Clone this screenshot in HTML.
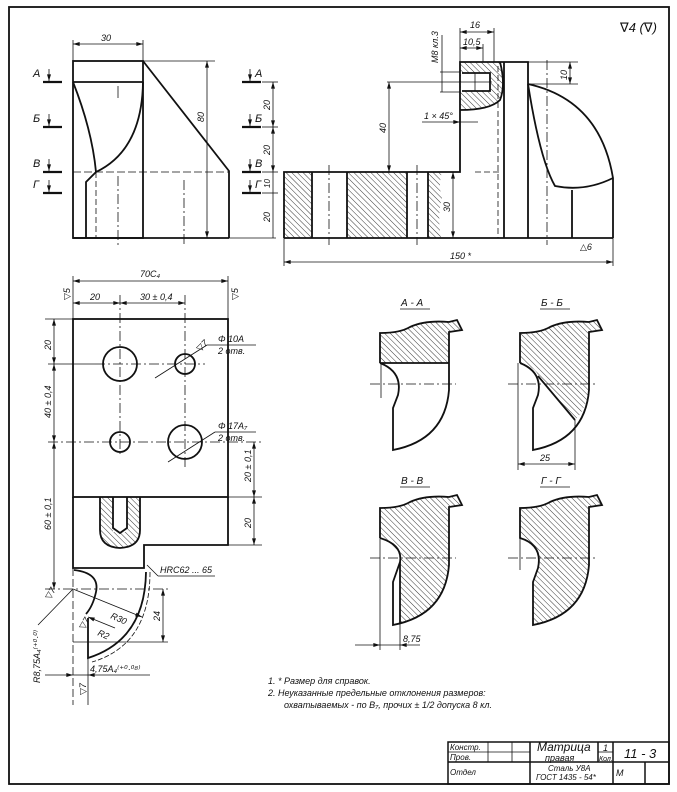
<!DOCTYPE html>
<html><head><meta charset="utf-8"><style>
html,body{margin:0;padding:0;background:#fff;}
svg{display:block;}
text{font-family:"Liberation Sans","DejaVu Sans",sans-serif;font-style:italic;fill:#111;}
.d{marker-start:url(#ar);marker-end:url(#ar);}
</style></head><body>
<svg width="677" height="792" viewBox="0 0 677 792" xmlns="http://www.w3.org/2000/svg">
<defs>
<pattern id="h" patternUnits="userSpaceOnUse" width="4" height="4" patternTransform="rotate(-45)">
<line x1="0" y1="0" x2="0" y2="4" stroke="#222" stroke-width="0.9"/>
</pattern>
<marker id="ar" viewBox="0 0 10 6" refX="10" refY="3" markerWidth="7" markerHeight="4" markerUnits="userSpaceOnUse" orient="auto-start-reverse">
<path d="M0,0 L10,3 L0,6 Z" fill="#111"/>
</marker>
</defs>
<g fill="none" stroke="#111" stroke-width="1.8">
<rect x="9" y="7" width="660" height="777"/>
</g>

<!-- ===== Top-left view ===== -->
<g fill="none" stroke="#111" stroke-width="1.8">
<rect x="73" y="61" width="70" height="177"/>
<line x1="73" y1="82" x2="143" y2="82"/>
<polyline points="143,61 229,171 229,238"/>
<line x1="73" y1="238" x2="229" y2="238"/>
<path d="M73,82 Q92,130 96,172 L86,182 L86,238"/>
<path d="M143,82 Q142,150 96,172"/>
</g>
<g fill="none" stroke="#111" stroke-width="0.8">
<line x1="229" y1="238" x2="276" y2="238"/>
<line x1="73" y1="172" x2="229" y2="172" stroke-dasharray="8,3"/>
<line x1="96" y1="172" x2="96" y2="238" stroke-dasharray="6,3"/>
<line x1="118" y1="86" x2="118" y2="98"/>
<line x1="118" y1="176" x2="118" y2="246" stroke-dasharray="10,3,2,3"/>
<line x1="184" y1="180" x2="184" y2="246" stroke-dasharray="10,3,2,3"/>
<line x1="73" y1="61" x2="73" y2="40"/><line x1="143" y1="61" x2="143" y2="40"/>
<line class="d" x1="73" y1="44" x2="143" y2="44"/>
<line x1="143" y1="61" x2="215" y2="61"/>
<line class="d" x1="207" y1="61" x2="207" y2="238"/>
<line class="d" x1="273" y1="82" x2="273" y2="127"/>
<line class="d" x1="273" y1="127" x2="273" y2="172"/>
<line x1="273" y1="172" x2="273" y2="238"/>
<line x1="262" y1="82" x2="278" y2="82"/><line x1="262" y1="127" x2="278" y2="127"/>
<line x1="262" y1="172" x2="278" y2="172"/><line x1="262" y1="193" x2="278" y2="193"/>
<line style="marker-end:url(#ar)" x1="49" y1="69" x2="49" y2="81"/><line style="marker-end:url(#ar)" x1="49" y1="114" x2="49" y2="126"/>
<line style="marker-end:url(#ar)" x1="49" y1="159" x2="49" y2="171"/><line style="marker-end:url(#ar)" x1="49" y1="180" x2="49" y2="192"/>
<line style="marker-end:url(#ar)" x1="250" y1="69" x2="250" y2="81"/><line style="marker-end:url(#ar)" x1="250" y1="114" x2="250" y2="126"/>
<line style="marker-end:url(#ar)" x1="250" y1="159" x2="250" y2="171"/><line style="marker-end:url(#ar)" x1="250" y1="180" x2="250" y2="192"/>
</g>
<g stroke="#111" stroke-width="2.2">
<line x1="43" y1="82" x2="62" y2="82"/><line x1="43" y1="127" x2="62" y2="127"/>
<line x1="43" y1="172" x2="62" y2="172"/><line x1="43" y1="193" x2="62" y2="193"/>
<line x1="242" y1="82" x2="261" y2="82"/><line x1="242" y1="127" x2="261" y2="127"/>
<line x1="242" y1="172" x2="261" y2="172"/><line x1="242" y1="193" x2="261" y2="193"/>
</g>
<g font-size="11">
<text x="101" y="41" font-size="9">30</text>
<text x="33" y="77">А</text><text x="33" y="122">Б</text><text x="33" y="167">В</text><text x="33" y="188">Г</text>
<text x="255" y="77">А</text><text x="255" y="122">Б</text><text x="255" y="167">В</text><text x="255" y="188">Г</text>
<text font-size="9" transform="translate(204,122) rotate(-90)">80</text>
<text font-size="9" transform="translate(270,110) rotate(-90)">20</text>
<text font-size="9" transform="translate(270,155) rotate(-90)">20</text>
<text font-size="8" transform="translate(270,188) rotate(-90)">10</text>
<text font-size="9" transform="translate(270,222) rotate(-90)">20</text>
</g>

<!-- ===== Top-right view ===== -->
<g>
<rect x="284" y="172" width="28" height="66" fill="url(#h)"/>
<rect x="347" y="172" width="60" height="66" fill="url(#h)"/>
<path d="M428,172 L442,172 Q438,185 442,198 Q437,215 441,238 L428,238 Z" fill="url(#h)"/>
<path d="M460,62 L500,62 Q506,85 500,100 Q490,110 460,110 Z" fill="url(#h)"/>
<rect x="461" y="73" width="30" height="18" fill="#fff"/>
</g>
<g fill="none" stroke="#111" stroke-width="1.8">
<polyline points="284,238 284,172 460,172 460,62 528,62 528,238"/>
<line x1="284" y1="238" x2="613" y2="238"/>
<line x1="312" y1="172" x2="312" y2="238"/><line x1="347" y1="172" x2="347" y2="238"/>
<line x1="407" y1="172" x2="407" y2="238"/><line x1="428" y1="172" x2="428" y2="238"/>
<line x1="504" y1="62" x2="504" y2="238"/>
<path d="M528,84 Q600,100 613,178 L613,238"/>
<path d="M528,84 Q540,160 555,186 Q585,192 613,178"/>
<line x1="572" y1="190" x2="572" y2="238"/>
<path d="M462,73 L490,73 L490,91 L462,91"/>
<path d="M500,62 Q506,85 500,100 Q490,110 460,110"/>
</g>
<g fill="none" stroke="#111" stroke-width="0.8">
<line x1="329" y1="165" x2="329" y2="245" stroke-dasharray="10,3,2,3"/>
<line x1="417" y1="165" x2="417" y2="245" stroke-dasharray="10,3,2,3"/>
<line x1="547" y1="60" x2="547" y2="245" stroke-dasharray="10,3,2,3"/>
<line x1="498" y1="66" x2="498" y2="238" stroke-dasharray="6,3"/>
<line x1="475" y1="172" x2="500" y2="172" stroke-dasharray="6,3"/>
<line x1="475" y1="73" x2="475" y2="91"/>
<line x1="387" y1="82" x2="492" y2="82"/>
<line class="d" x1="389" y1="82" x2="389" y2="172"/>
<line x1="440" y1="72" x2="460" y2="72"/><line x1="440" y1="92" x2="460" y2="92"/>
<line x1="442" y1="35" x2="442" y2="92"/>
<line x1="460" y1="62" x2="460" y2="28"/><line x1="494" y1="62" x2="494" y2="28"/>
<line x1="483" y1="62" x2="483" y2="44"/>
<line class="d" x1="460" y1="32" x2="494" y2="32"/><line class="d" x1="460" y1="48" x2="483" y2="48"/>
<line x1="528" y1="62" x2="578" y2="62"/><line x1="528" y1="84" x2="578" y2="84"/>
<line class="d" x1="570" y1="62" x2="570" y2="84"/>
<line style="marker-end:url(#ar)" x1="422" y1="122" x2="460" y2="122"/>
<line x1="460" y1="122" x2="478" y2="122"/>
<line class="d" x1="453" y1="172" x2="453" y2="238"/>
<line x1="284" y1="238" x2="284" y2="266"/><line x1="613" y1="238" x2="613" y2="266"/>
<line class="d" x1="284" y1="262" x2="613" y2="262"/>
</g>
<g font-size="9">
<text x="470" y="28">16</text>
<text x="463" y="45">10,5</text>
<text transform="translate(438,63) rotate(-90)">М8 кл.3</text>
<text transform="translate(386,133) rotate(-90)">40</text>
<text transform="translate(567,80) rotate(-90)">10</text>
<text transform="translate(450,212) rotate(-90)">30</text>
<text x="424" y="119">1 × 45°</text>
<text x="450" y="259">150 *</text>
<text x="580" y="250" font-style="normal">△6</text>
<text x="620" y="32" font-size="13" font-style="normal">∇4 (∇)</text>
</g>

<!-- ===== Bottom-left view ===== -->
<path d="M100,497 L140,497 L140,530 Q140,547 120,548 Q100,547 100,530 Z" fill="url(#h)"/>
<rect x="113" y="497" width="14" height="35" fill="#fff"/>
<g fill="none" stroke="#111" stroke-width="1.8">
<rect x="73" y="319" width="155" height="178"/>
<polyline points="73,497 73,568 144,568 144,545 228,545 228,497"/>
<circle cx="120" cy="364" r="17"/>
<circle cx="185" cy="364" r="10"/>
<circle cx="120" cy="442" r="10"/>
<circle cx="185" cy="442" r="17"/>
<path d="M100,497 L100,530 Q100,547 120,548 Q140,547 140,530 L140,497"/>
<path d="M113,497 L113,528 L120,533 L127,528 L127,497"/>
<path d="M74,570 Q100,573 96,592 Q93,606 86,614"/>
<path d="M146,572 Q145,640 88,658 L88,618"/>
</g>
<g fill="none" stroke="#111" stroke-width="0.8">
<path d="M150,572 Q150,645 92,662" stroke-dasharray="5,2"/>
<line x1="95" y1="364" x2="205" y2="364" stroke-dasharray="10,3,2,3"/>
<line x1="48" y1="442" x2="262" y2="442" stroke-dasharray="10,3,2,3"/>
<line x1="120" y1="295" x2="120" y2="456" stroke-dasharray="10,3,2,3"/>
<line x1="185" y1="295" x2="185" y2="470" stroke-dasharray="10,3,2,3"/>
<line x1="45" y1="589" x2="168" y2="589" stroke-dasharray="10,3,2,3"/>
<line x1="73" y1="568" x2="73" y2="705" stroke-dasharray="8,3"/>
<line x1="73" y1="319" x2="73" y2="276"/><line x1="228" y1="319" x2="228" y2="276"/>
<line class="d" x1="73" y1="281" x2="228" y2="281"/>
<line class="d" x1="73" y1="303" x2="120" y2="303"/>
<line class="d" x1="120" y1="303" x2="185" y2="303"/>
<line x1="45" y1="319" x2="73" y2="319"/>
<line class="d" x1="54" y1="319" x2="54" y2="364"/>
<line class="d" x1="54" y1="364" x2="54" y2="442"/>
<line class="d" x1="54" y1="442" x2="54" y2="589"/>
<line x1="48" y1="364" x2="95" y2="364"/>
<line x1="228" y1="497" x2="262" y2="497"/><line x1="228" y1="545" x2="262" y2="545"/>
<line class="d" x1="254" y1="442" x2="254" y2="497"/>
<line class="d" x1="254" y1="497" x2="254" y2="545"/>
<line class="d" x1="163" y1="589" x2="163" y2="642"/>
<line x1="73" y1="642" x2="168" y2="642"/>
<line x1="155" y1="378" x2="207" y2="345"/><line x1="207" y1="345" x2="256" y2="345"/>
<line x1="168" y1="462" x2="215" y2="432"/><line x1="215" y1="432" x2="256" y2="432"/>
<line x1="147" y1="565" x2="158" y2="576"/><line x1="158" y1="576" x2="215" y2="576"/>
<line style="marker-end:url(#ar)" x1="73" y1="589" x2="142" y2="617"/>
<line style="marker-start:url(#ar)" x1="88" y1="617" x2="115" y2="628"/>
<line x1="73" y1="589" x2="38" y2="625"/>
<line style="marker-end:url(#ar)" x1="45" y1="675" x2="73" y2="675"/>
<line style="marker-start:url(#ar)" x1="88" y1="675" x2="150" y2="675"/>
<line x1="73" y1="675" x2="88" y2="675"/>
<line x1="88" y1="658" x2="88" y2="705"/>
</g>
<g font-size="9">
<text x="140" y="277">70С₄</text>
<text x="90" y="300">20</text>
<text x="140" y="300">30 ± 0,4</text>
<text x="62" y="300" font-style="normal" transform="rotate(-90,66,296)">▽5</text>
<text x="230" y="300" font-style="normal" transform="rotate(-90,234,296)">▽5</text>
<text transform="translate(51,350) rotate(-90)">20</text>
<text transform="translate(51,418) rotate(-90)">40 ± 0,4</text>
<text transform="translate(51,530) rotate(-90)">60 ± 0,1</text>
<text transform="translate(251,482) rotate(-90)">20 ± 0,1</text>
<text transform="translate(251,528) rotate(-90)">20</text>
<text transform="translate(160,621) rotate(-90)">24</text>
<text x="218" y="342">Φ 10А</text>
<text x="218" y="354">2 отв.</text>
<text x="218" y="429">Φ 17А₇</text>
<text x="218" y="441">2 отв.</text>
<text x="160" y="573">HRC62 ... 65</text>
<text transform="translate(110,618) rotate(24)">R30</text>
<text transform="translate(97,635) rotate(24)">R2</text>
<text x="90" y="672">4,75А₄⁽⁺⁰·⁰⁸⁾</text>
<text transform="translate(40,683) rotate(-90)">R8,75А₄⁽⁺⁰·⁰⁾</text>
<text font-style="normal" transform="translate(50,600) rotate(-60)">▽7</text>
<text font-style="normal" transform="translate(86,695) rotate(-90)">▽7</text>
<text font-style="normal" transform="translate(84,630) rotate(-60)">▽7</text>
<text font-style="normal" transform="translate(200,352) rotate(-45)">▽7</text>
</g>

<!-- ===== Sections ===== -->
<g font-size="10">
<text x="401" y="306">А - А</text><line x1="400" y1="309" x2="430" y2="309" stroke="#111" stroke-width="0.8"/>
<text x="541" y="306">Б - Б</text><line x1="540" y1="309" x2="570" y2="309" stroke="#111" stroke-width="0.8"/>
<text x="401" y="484">В - В</text><line x1="400" y1="487" x2="430" y2="487" stroke="#111" stroke-width="0.8"/>
<text x="541" y="484">Г - Г</text><line x1="540" y1="487" x2="570" y2="487" stroke="#111" stroke-width="0.8"/>
</g>
<!-- A-A -->
<path d="M380,333 Q400,333 410,327 Q425,320 449,322 L457,320 L462,330 L449,332 L449,363 L380,363 Z" fill="url(#h)"/>
<g fill="none" stroke="#111" stroke-width="1.8">
<path d="M380,363 L380,333 Q400,333 410,327 Q425,320 449,322 L457,320 L462,330 L449,332 L449,390 Q445,440 393,450 L393,408 L398,395 Q403,372 380,363 L449,363"/>
</g>
<line x1="370" y1="384" x2="456" y2="384" stroke="#111" stroke-width="0.8" stroke-dasharray="10,3,2,3"/>
<line x1="381" y1="363" x2="381" y2="398" stroke="#111" stroke-width="0.8"/>
<!-- Б-Б -->
<path d="M520,333 Q540,333 550,327 Q565,320 589,322 L597,320 L602,330 L589,332 L589,388 Q586,410 575,420 L538,376 Q537,368 520,363 Z" fill="url(#h)"/>
<g fill="none" stroke="#111" stroke-width="1.8">
<path d="M520,363 L520,333 Q540,333 550,327 Q565,320 589,322 L597,320 L602,330 L589,332 L589,390 Q585,440 533,450 L533,408 L538,395 Q543,372 520,363"/>
<line x1="538" y1="376" x2="575" y2="420"/>
</g>
<g fill="none" stroke="#111" stroke-width="0.8">
<line x1="508" y1="384" x2="596" y2="384" stroke-dasharray="10,3,2,3"/>
<line x1="518" y1="363" x2="518" y2="470"/><line x1="575" y1="420" x2="575" y2="470"/>
<line class="d" x1="518" y1="464" x2="575" y2="464"/>
</g>
<text x="540" y="461" font-size="9">25</text>
<!-- В-В -->
<path d="M380,508 Q400,508 410,502 Q425,495 449,497 L457,495 L462,505 L449,507 L449,565 Q445,615 400,623 L400,560 Q398,545 380,538 Z" fill="url(#h)"/>
<g fill="none" stroke="#111" stroke-width="1.8">
<path d="M380,538 L380,508 Q400,508 410,502 Q425,495 449,497 L457,495 L462,505 L449,507 L449,565 Q445,615 393,625 L393,582 L400,562 Q403,545 380,538"/>
<line x1="400" y1="562" x2="400" y2="623"/>
</g>
<g fill="none" stroke="#111" stroke-width="0.8">
<line x1="370" y1="558" x2="456" y2="558" stroke-dasharray="10,3,2,3"/>
<line x1="380" y1="538" x2="380" y2="650"/><line x1="400" y1="623" x2="400" y2="650"/>
<line style="marker-end:url(#ar)" x1="355" y1="645" x2="380" y2="645"/>
<line style="marker-start:url(#ar)" x1="400" y1="645" x2="420" y2="645"/>
<line x1="380" y1="645" x2="400" y2="645"/>
</g>
<text x="403" y="642" font-size="9">8,75</text>
<!-- Г-Г -->
<path d="M520,508 Q540,508 550,502 Q565,495 589,497 L597,495 L602,505 L589,507 L589,565 Q585,615 533,625 L533,582 L538,568 Q543,545 520,538 Z" fill="url(#h)" stroke="#111" stroke-width="1.8"/>
<line x1="508" y1="558" x2="596" y2="558" stroke="#111" stroke-width="0.8" stroke-dasharray="10,3,2,3"/>
<line x1="520" y1="538" x2="520" y2="570" stroke="#111" stroke-width="0.8"/>

<!-- Notes -->
<g font-size="9">
<text x="268" y="684">1.  *  Размер для справок.</text>
<text x="268" y="696">2.  Неуказанные предельные отклонения размеров:</text>
<text x="284" y="708">охватываемых - по В₇, прочих ± 1/2 допуска 8 кл.</text>
</g>

<!-- Title block -->
<g fill="none" stroke="#111" stroke-width="1.5">
<rect x="448" y="742" width="221" height="42"/>
<line x1="448" y1="752" x2="530" y2="752" stroke-width="0.8"/>
<line x1="598" y1="752" x2="613" y2="752" stroke-width="0.8"/>
<line x1="448" y1="762" x2="669" y2="762"/>
<line x1="488" y1="742" x2="488" y2="762" stroke-width="0.8"/>
<line x1="512" y1="742" x2="512" y2="762" stroke-width="0.8"/>
<line x1="530" y1="742" x2="530" y2="784"/>
<line x1="598" y1="742" x2="598" y2="762"/>
<line x1="613" y1="742" x2="613" y2="784"/>
<line x1="645" y1="762" x2="645" y2="784"/>
</g>
<g>
<text x="450" y="750" font-size="8">Констр.</text>
<text x="450" y="760" font-size="8">Пров.</text>
<text x="450" y="775" font-size="8">Отдел</text>
<text x="537" y="751" font-size="12">Матрица</text>
<text x="545" y="761" font-size="9">правая</text>
<text x="548" y="771" font-size="8">Сталь У8А</text>
<text x="536" y="780" font-size="8">ГОСТ 1435 - 54*</text>
<text x="603" y="751" font-size="9">1</text>
<text x="599" y="761" font-size="7">Кол.</text>
<text x="624" y="758" font-size="13">11 - 3</text>
<text x="616" y="776" font-size="9">М</text>
</g>
</svg>
</body></html>
